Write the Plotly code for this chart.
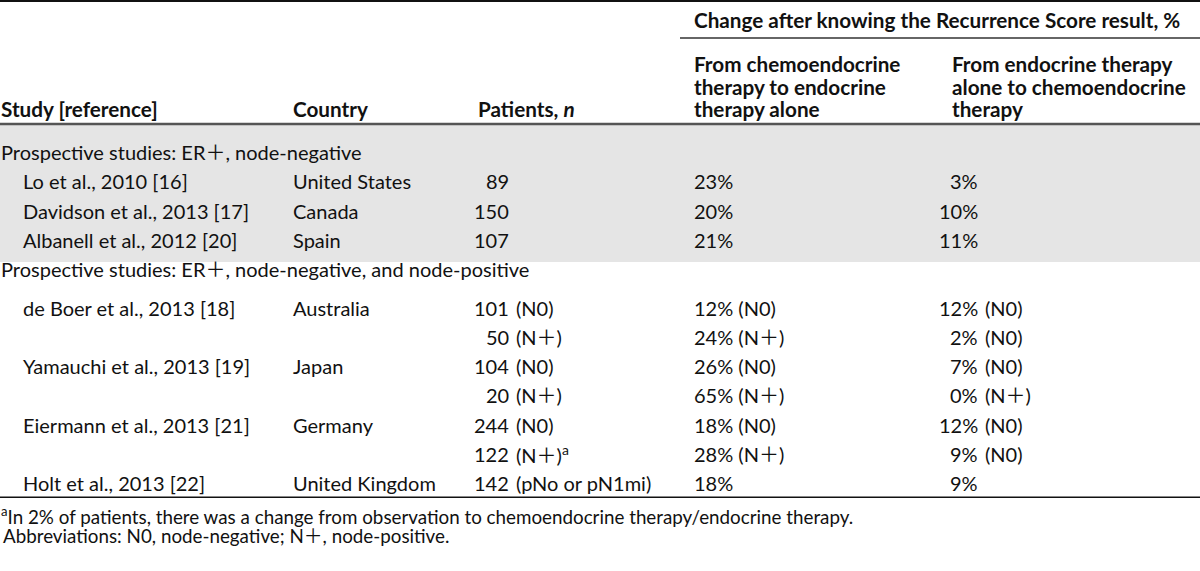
import plotly.graph_objects as go

# ---------------- data ----------------
group_titles = [
    "Prospective studies: ER\uff0b, node-negative",
    "Prospective studies: ER\uff0b, node-negative, and node-positive",
]
group_sizes = [3, 7]

study = [
    "Lo et al., 2010 [16]", "Davidson et al., 2013 [17]", "Albanell et al., 2012 [20]",
    "de Boer et al., 2013 [18]", "", "Yamauchi et al., 2013 [19]", "",
    "Eiermann et al., 2013 [21]", "", "Holt et al., 2013 [22]",
]
country = ["United States", "Canada", "Spain", "Australia", "", "Japan", "",
           "Germany", "", "United Kingdom"]
patients_n = [89, 150, 107, 101, 50, 104, 20, 244, 122, 142]
patients_note = ["", "", "", "(N0)", "(N\uff0b)", "(N0)", "(N\uff0b)", "(N0)",
                 "(N\uff0b)<sup>a</sup>", "(pNo or pN1mi)"]
chemo_to_endo = [23, 20, 21, 12, 24, 26, 65, 18, 28, 18]
chemo_to_endo_note = ["", "", "", "(N0)", "(N\uff0b)", "(N0)", "(N\uff0b)", "(N0)", "(N\uff0b)", ""]
endo_to_chemo = [3, 10, 11, 12, 2, 7, 0, 12, 9, 9]
endo_to_chemo_note = ["", "", "", "(N0)", "(N0)", "(N0)", "(N\uff0b)", "(N0)", "(N0)", ""]

col_headers = ["Study [reference]", "Country", "Patients, <i>n</i>"]
span_header = "Change after knowing the Recurrence Score result, %"
sub_header_1 = ["From chemoendocrine", "therapy to endocrine", "therapy alone"]
sub_header_2 = ["From endocrine therapy", "alone to chemoendocrine", "therapy"]
footnotes = [
    "<sup>a</sup>In 2% of patients, there was a change from observation to chemoendocrine therapy/endocrine therapy.",
    "Abbreviations: N0, node-negative; N\uff0b, node-positive.",
]

# ---------------- layout constants ----------------
W, H = 1200, 571
FONT = "Lato, 'Noto Sans CJK SC', sans-serif"
FS = 20
FS_BOLD = 20.7
FS_FOOT = 18.8
TXT = "#111111"

X_GROUP, X_STUDY, X_COUNTRY = 0, 22, 292
X_PAT, X_PAT_NUM_R, X_PAT_SUF = 477, 510, 515
X_C4 = 693
X_C5, X_C5_NUM_R, X_C5_SUF = 951, 979, 984

Y_FIRST = 152
PITCH = 29.3
GROUP_EXTRA = [0, 9]

fig = go.Figure()
ann = []


def add(text, x, y, xa="left", bold=False, size=None):
    if size is None:
        size = FS_BOLD if bold else FS
    ann.append(dict(
        text=f"<b>{text}</b>" if bold else text, x=x, y=y, xref="x", yref="y",
        xanchor=xa, yanchor="middle", showarrow=False, borderpad=0,
        font=dict(family=FONT, size=size, color=TXT),
    ))


# header
add(span_header, X_C4, 20, bold=True)
for i, (a, b) in enumerate(zip(sub_header_1, sub_header_2)):
    yy = 64 + i * 22.5
    add(a, X_C4, yy, bold=True)
    add(b, X_C5, yy, bold=True)
add(col_headers[0], 0, 109, bold=True)
add(col_headers[1], X_COUNTRY, 109, bold=True)
add(col_headers[2], X_PAT, 109, bold=True)

# body
y = Y_FIRST
k = 0
row_ys = []
for g, (title, size) in enumerate(zip(group_titles, group_sizes)):
    add(title, X_GROUP, y)
    y += PITCH + GROUP_EXTRA[g]
    for _ in range(size):
        row_ys.append(y)
        if study[k]:
            add(study[k], X_STUDY, y)
        if country[k]:
            add(country[k], X_COUNTRY, y)
        add(str(patients_n[k]), X_PAT_NUM_R, y, xa="right")
        if patients_note[k]:
            add(patients_note[k], X_PAT_SUF, y)
        c4 = f"{chemo_to_endo[k]}%" + (f" {chemo_to_endo_note[k]}" if chemo_to_endo_note[k] else "")
        add(c4, X_C4, y)
        add(f"{endo_to_chemo[k]}%", X_C5_NUM_R, y, xa="right")
        if endo_to_chemo_note[k]:
            add(endo_to_chemo_note[k], X_C5_SUF, y)
        y += PITCH
        k += 1

band_bottom = row_ys[group_sizes[0] - 1] + 22
table_bottom = row_ys[-1] + 14

add(footnotes[0], 0, table_bottom + 18, size=FS_FOOT)
add(footnotes[1], 2, table_bottom + 38, size=FS_FOOT)

shapes = [
    dict(type="rect", x0=0, x1=W, y0=125, y1=band_bottom, xref="x", yref="y",
         fillcolor="#e5e5e5", line=dict(width=0), layer="below"),
    dict(type="line", x0=0, x1=W, y0=1, y1=1, xref="x", yref="y",
         line=dict(color="#111111", width=2)),
    dict(type="line", x0=680, x1=W, y0=38, y1=38, xref="x", yref="y",
         line=dict(color="#333333", width=1.5)),
    dict(type="line", x0=0, x1=W, y0=124, y1=124, xref="x", yref="y",
         line=dict(color="#555555", width=2.5)),
    dict(type="line", x0=0, x1=W, y0=table_bottom, y1=table_bottom, xref="x", yref="y",
         line=dict(color="#111111", width=1.5)),
]

fig.update_layout(
    width=W, height=H, autosize=False,
    margin=dict(l=0, r=0, t=0, b=0, pad=0),
    paper_bgcolor="white", plot_bgcolor="white",
    xaxis=dict(range=[0, W], visible=False, fixedrange=True),
    yaxis=dict(range=[H, 0], visible=False, fixedrange=True),
    annotations=ann, shapes=shapes, showlegend=False,
)
fig.write_html(
    "out.html", config={"displayModeBar": False},
    post_script="document.body.style.margin='0';document.body.style.overflow='hidden';",
)
